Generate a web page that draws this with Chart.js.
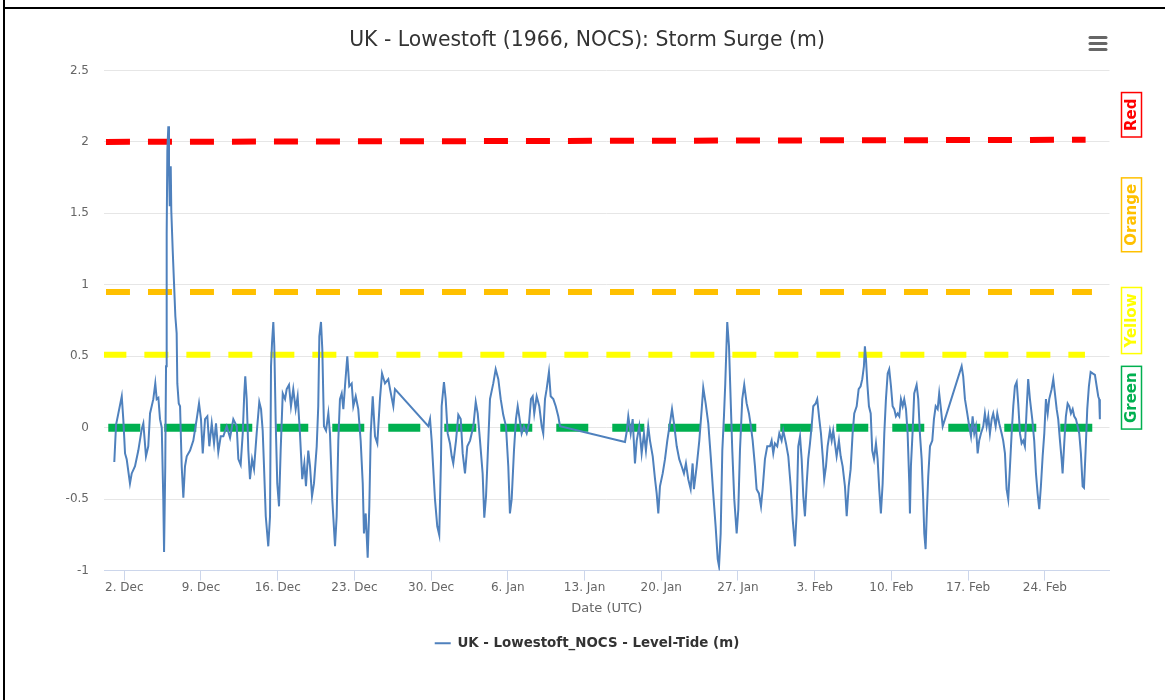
<!DOCTYPE html>
<html>
<head>
<meta charset="utf-8">
<title>Lowestoft storm surge</title>
<script src="https://cdn.jsdelivr.net/npm/chart.js@4.4.1/dist/chart.umd.min.js"></script>
<style>
  html, body { margin: 0; padding: 0; background: #fff; }
  #wrap { position: relative; width: 1165px; height: 700px; overflow: hidden; }
  #chart { position: absolute; left: 0; top: 0; }
  .rule-v { position: absolute; left: 3px; top: 0; width: 2px; height: 700px; background: #000; }
  .rule-h { position: absolute; left: 3px; top: 7px; width: 1162px; height: 2px; background: #000; }
</style>
</head>
<body>
<div id="wrap">
  <canvas id="chart" width="1165" height="700"></canvas>
  <div class="rule-v"></div>
  <div class="rule-h"></div>
</div>
<script>
// days since 1 Dec 1965 00:00 UTC, and surge (m)
const surgeDays = [
  0.09,0.25,0.46,0.77,0.91,1.07,1.22,1.52,1.68,1.98,
  2.28,2.59,2.74,2.98,3.19,3.35,3.65,3.83,3.96,4.11,
  4.26,4.42,4.56,4.63,4.74,4.81,4.87,4.93,5.02,5.08,
  5.15,5.24,5.29,5.42,5.54,5.66,5.78,5.84,5.97,6.09,
  6.24,6.39,6.54,6.70,7.00,7.30,7.61,7.82,8.00,8.16,
  8.37,8.58,8.76,8.98,9.19,9.37,9.58,9.80,10.04,10.35,
  10.65,10.95,11.26,11.41,11.62,11.81,11.95,12.04,12.17,12.32,
  12.47,12.66,12.84,13.08,13.32,13.48,13.63,13.75,13.91,14.14,
  14.30,14.39,14.48,14.60,14.69,14.82,14.96,15.12,15.27,15.46,
  15.67,15.82,16.03,16.21,16.42,16.64,16.82,17.03,17.24,17.43,
  17.58,17.79,17.95,18.13,18.31,18.56,18.70,18.80,18.95,19.07,
  19.22,19.41,19.62,19.77,19.98,20.23,20.38,20.53,20.68,20.84,
  20.99,21.14,21.35,21.53,21.75,21.90,22.12,22.35,22.57,22.76,
  22.87,23.03,23.21,23.36,23.49,23.67,23.88,24.09,24.33,24.52,
  24.79,25.09,25.25,25.55,25.70,28.74,28.90,29.05,29.35,29.56,
  29.74,29.90,29.96,30.17,30.33,30.51,30.72,30.88,31.02,31.27,
  31.48,31.70,31.88,32.09,32.30,32.55,32.85,33.07,33.25,33.46,
  33.70,33.85,34.01,34.16,34.37,34.67,34.89,35.13,35.35,35.58,
  35.83,36.04,36.19,36.35,36.56,36.74,36.90,37.04,37.26,37.47,
  37.72,37.93,38.11,38.27,38.41,38.63,38.87,39.09,39.23,39.39,
  39.54,39.75,39.91,40.15,40.37,40.60,40.76,46.69,46.84,46.99,
  47.21,47.39,47.60,47.76,47.99,48.21,48.42,48.60,48.81,48.97,
  49.22,49.43,49.58,49.73,49.88,50.13,50.34,50.55,50.79,50.98,
  51.16,51.41,51.64,51.86,52.07,52.25,52.46,52.68,52.86,52.98,
  53.23,53.47,53.69,53.83,54.05,54.29,54.53,54.74,54.96,55.15,
  55.27,55.42,55.57,55.72,55.84,56.02,56.18,56.33,56.48,56.66,
  56.88,57.03,57.18,57.39,57.57,57.79,58.00,58.18,58.34,58.55,
  58.70,58.91,59.10,59.25,59.46,59.67,
  59.92,60.07,60.22,60.37,60.58,60.77,60.98,61.13,61.38,61.59,
  61.81,61.99,62.20,62.35,62.50,62.66,62.81,62.96,63.11,63.27,
  63.41,63.57,63.72,63.87,64.09,64.23,64.42,64.57,64.73,64.87,
  65.03,65.18,65.39,65.55,65.69,65.88,66.00,66.21,66.37,66.55,
  66.76,66.92,67.10,67.28,67.46,67.61,67.83,68.01,68.19,68.34,
  68.49,68.58,68.68,68.80,68.95,69.11,69.25,69.41,69.59,69.74,
  69.89,70.04,70.20,70.35,70.50,70.66,70.80,70.96,71.11,71.26,
  71.41,71.57,71.72,71.87,72.03,72.17,72.33,72.48,72.63,72.69,
  72.78,72.94,73.08,73.30,73.45,73.60,73.76,73.90,74.00,74.12,
  74.21,74.36,74.52,74.73,74.88,75.04,75.22,75.36,75.52,75.68,
  77.41,77.55,77.71,77.92,78.10,78.26,78.41,78.56,78.71,78.87,
  79.01,79.17,79.38,79.53,79.69,79.84,79.99,80.15,80.29,80.51,
  80.66,80.84,81.06,81.20,81.36,81.51,81.66,81.82,81.97,82.12,
  82.27,82.43,82.57,82.73,82.88,83.03,83.18,83.34,83.48,83.64,
  83.85,84.03,84.19,84.34,84.49,84.64,84.80,84.95,85.10,85.26,
  85.40,85.62,85.77,85.92,86.08,86.22,86.38,86.53,86.62,86.77,
  86.92,87.08,87.23,87.38,87.54,87.68,87.84,87.99,88.14,88.29,
  88.45,88.57,88.72,88.87,89.02,89.18,89.36,89.57,89.73,89.87,
  89.96,90.02
];
const surgeValues = [
  -0.24,0.02,0.10,0.22,0.06,-0.18,-0.22,-0.39,-0.32,-0.27,
  -0.16,-0.01,0.03,-0.20,-0.13,0.10,0.20,0.31,0.20,0.21,
  0.06,0.00,-0.50,-0.87,-0.27,0.43,1.36,1.94,2.11,1.83,
  1.55,1.83,1.52,1.24,1.01,0.78,0.66,0.31,0.17,0.15,
  -0.27,-0.49,-0.27,-0.20,-0.16,-0.09,0.06,0.17,0.06,-0.18,
  0.06,0.08,-0.13,0.03,-0.11,0.03,-0.17,-0.06,-0.06,0.01,
  -0.07,0.06,0.01,-0.22,-0.26,-0.04,0.24,0.36,0.20,-0.16,
  -0.36,-0.22,-0.29,-0.04,0.18,0.13,-0.02,-0.27,-0.62,-0.83,
  -0.62,0.43,0.59,0.74,0.57,0.03,-0.39,-0.55,-0.16,0.24,
  0.20,0.27,0.30,0.15,0.27,0.13,0.22,-0.04,-0.36,-0.25,
  -0.41,-0.16,-0.27,-0.48,-0.39,-0.13,0.15,0.64,0.74,0.55,
  0.01,-0.02,0.10,-0.04,-0.50,-0.83,-0.62,-0.09,0.20,0.24,
  0.13,0.29,0.50,0.29,0.31,0.15,0.22,0.13,-0.09,-0.39,
  -0.74,-0.60,-0.91,-0.55,-0.04,0.22,-0.06,-0.11,0.20,0.38,
  0.31,0.34,0.27,0.15,0.27,0.01,0.06,-0.09,-0.50,-0.69,
  -0.75,-0.22,0.15,0.32,0.20,-0.04,-0.11,-0.20,-0.25,-0.09,
  0.09,0.06,-0.18,-0.32,-0.13,-0.09,0.01,0.18,0.10,-0.09,
  -0.32,-0.63,-0.48,-0.20,0.20,0.31,0.41,0.34,0.20,0.09,
  0.01,-0.27,-0.60,-0.50,-0.16,0.06,0.15,0.08,-0.04,0.01,
  -0.04,0.03,0.20,0.22,0.10,0.22,0.15,0.01,-0.04,0.20,
  0.27,0.39,0.22,0.20,0.15,0.08,0.01,-0.10,-0.03,0.08,
  -0.04,0.06,-0.25,-0.09,0.01,-0.18,-0.04,-0.16,0.01,-0.09,
  -0.20,-0.36,-0.46,-0.60,-0.41,-0.32,-0.22,-0.09,0.03,0.13,
  0.03,-0.13,-0.22,-0.27,-0.32,-0.25,-0.36,-0.43,-0.25,-0.43,
  -0.27,-0.09,0.13,0.28,0.17,0.03,-0.22,-0.46,-0.69,-0.92,
  -0.97,-0.74,-0.16,0.08,0.31,0.74,0.57,0.20,-0.16,-0.50,
  -0.74,-0.57,-0.16,0.20,0.30,0.17,0.10,0.01,-0.09,-0.27,
  -0.43,-0.46,-0.55,-0.43,-0.22,-0.13,
  -0.13,-0.09,-0.18,-0.11,-0.13,-0.04,-0.09,-0.02,-0.11,-0.20,
  -0.41,-0.64,-0.83,-0.60,-0.13,-0.06,-0.22,-0.48,-0.62,-0.39,
  -0.22,-0.11,0.01,0.15,0.17,0.20,0.06,-0.04,-0.20,-0.36,
  -0.27,-0.13,-0.02,-0.09,-0.02,-0.13,-0.20,-0.09,-0.20,-0.27,
  -0.41,-0.62,-0.41,-0.29,-0.04,0.10,0.15,0.27,0.29,0.34,
  0.43,0.57,0.48,0.31,0.15,0.10,-0.16,-0.22,-0.11,-0.22,
  -0.43,-0.60,-0.39,-0.04,0.20,0.38,0.41,0.29,0.15,0.13,
  0.08,0.10,0.08,0.20,0.15,0.20,0.13,-0.04,-0.39,-0.60,
  -0.27,-0.02,0.24,0.30,0.20,-0.04,-0.22,-0.50,-0.74,-0.85,
  -0.64,-0.34,-0.13,-0.09,0.06,0.15,0.13,0.24,0.13,0.01,
  0.43,0.36,0.20,0.10,0.01,-0.06,0.08,-0.04,0.01,-0.18,
  -0.09,-0.04,0.01,0.10,0.01,0.08,-0.04,0.06,0.10,0.01,
  0.10,0.03,-0.04,-0.09,-0.18,-0.43,-0.50,-0.27,-0.04,0.15,
  0.29,0.32,0.17,-0.04,-0.11,-0.09,-0.13,0.13,0.34,0.20,
  0.06,-0.09,-0.32,-0.46,-0.57,-0.41,-0.20,-0.04,0.20,0.10,
  0.20,0.27,0.34,0.24,0.13,0.06,-0.09,-0.22,-0.32,-0.11,
  0.08,0.17,0.15,0.10,0.13,0.08,0.06,0.01,-0.04,-0.18,
  -0.41,-0.42,-0.16,0.13,0.29,0.39,0.38,0.37,0.29,0.22,
  0.20,0.06
];

const tickDays = [1, 8, 15, 22, 29, 36, 43, 50, 57, 64, 71, 78, 85];
const tickLabels = ['2. Dec', '9. Dec', '16. Dec', '23. Dec', '30. Dec', '6. Jan', '13. Jan',
                    '20. Jan', '27. Jan', '3. Feb', '10. Feb', '17. Feb', '24. Feb'];

// warning thresholds (m)
const warningNames = ['Red', 'Orange', 'Yellow', 'Green'];
const warningColors = ['#ff0000', '#ffc000', '#ffff00', '#00b050'];
const warningFrom = [-0.67, -0.67, -1.0, -0.46];
const warningTo = [88.72, 89.3, 88.66, 89.35];
const warningLevelFrom = [2.0, 0.95, 0.51, 0];
const warningLevelTo = [2.015, 0.95, 0.51, 0];

Chart.defaults.font.family = '"DejaVu Sans", Verdana, sans-serif';

const datasets = [{
  label: 'UK - Lowestoft_NOCS - Level-Tide (m)',
  data: surgeDays.map((d, i) => ({ x: d, y: surgeValues[i] })),
  borderColor: '#4f81bd',
  backgroundColor: '#4f81bd',
  borderWidth: 2,
  pointRadius: 0,
  tension: 0
}];

warningNames.forEach((name, i) => {
  const wide = name === 'Green';
  datasets.push({
    label: name,
    data: [{ x: warningFrom[i], y: warningLevelFrom[i] }, { x: warningTo[i], y: warningLevelTo[i] }],
    borderColor: warningColors[i],
    borderWidth: wide ? 8 : 6,
    borderDash: wide ? [32, 24] : [24, 18],
    borderCapStyle: 'butt',
    pointRadius: 0
  });
});

// menu icon and the rotated warning tags on the right
const extras = {
  id: 'extras',
  afterDraw(chart, args, opts) {
    const { ctx, chartArea } = chart;
    const y = chart.scales.y;
    ctx.save();
    ctx.strokeStyle = '#666666';
    ctx.lineWidth = 3;
    ctx.lineCap = 'round';
    [37.5, 43.5, 49.5].forEach(yy => {
      ctx.beginPath();
      ctx.moveTo(1090, yy);
      ctx.lineTo(1106, yy);
      ctx.stroke();
    });

    ctx.font = 'bold 15px "DejaVu Sans"';
    ctx.textAlign = 'center';
    ctx.textBaseline = 'middle';
    warningNames.forEach((name, i) => {
      const cy = y.getPixelForValue(opts.anchors[i]);
      const w = ctx.measureText(name).width + 12;
      ctx.save();
      ctx.translate(chartArea.right + 22, cy);
      ctx.rotate(-Math.PI / 2);
      ctx.strokeStyle = warningColors[i];
      ctx.lineWidth = 1.5;
      ctx.strokeRect(-w / 2, -10, w, 20);
      ctx.fillStyle = warningColors[i];
      ctx.fillText(name, 0, 1);
      ctx.restore();
    });
    ctx.restore();
  }
};

new Chart(document.getElementById('chart'), {
  type: 'line',
  data: { datasets },
  options: {
    responsive: false,
    animation: false,
    layout: { padding: { left: 9, right: 0, top: 0, bottom: 40 } },
    plugins: {
      title: {
        display: true,
        text: 'UK - Lowestoft (1966, NOCS): Storm Surge (m)',
        color: '#333333',
        font: { size: 20.4, weight: 'normal' },
        padding: { top: 28, bottom: 18 }
      },
      legend: {
        position: 'bottom',
        labels: {
          filter: item => item.datasetIndex === 0,
          usePointStyle: true,
          pointStyle: 'line',
          pointStyleWidth: 16,
          color: '#333333',
          font: { size: 13.4, weight: 'bold' },
          padding: 20
        }
      },
      tooltip: { enabled: false },
      extras: { anchors: [2.19, 1.49, 0.75, 0.21] }
    },
    scales: {
      x: {
        type: 'linear',
        min: -0.85,
        max: 90.9,
        afterBuildTicks: scale => { scale.ticks = tickDays.map(v => ({ value: v })); },
        afterFit: scale => { scale.height = 46; },
        ticks: {
          color: '#666666',
          font: { size: 12 },
          padding: 0,
          maxRotation: 0,
          autoSkip: false,
          callback: v => tickLabels[tickDays.indexOf(v)]
        },
        grid: { drawOnChartArea: false, tickLength: 10, color: '#ccd6eb' },
        border: { color: '#ccd6eb' },
        title: { display: true, text: 'Date (UTC)', color: '#666666', font: { size: 13 }, padding: 0 }
      },
      y: {
        min: -1,
        max: 2.5,
        afterFit: scale => { scale.width = 95; },
        ticks: { stepSize: 0.5, color: '#666666', font: { size: 12 }, padding: 15, callback: v => String(v) },
        grid: { color: '#e6e6e6', drawTicks: false },
        border: { display: false }
      },
      yRight: {
        position: 'right',
        afterFit: scale => { scale.width = 55.5; },
        ticks: { display: false },
        grid: { display: false },
        border: { display: false }
      }
    }
  },
  plugins: [extras]
});
</script>
</body>
</html>
